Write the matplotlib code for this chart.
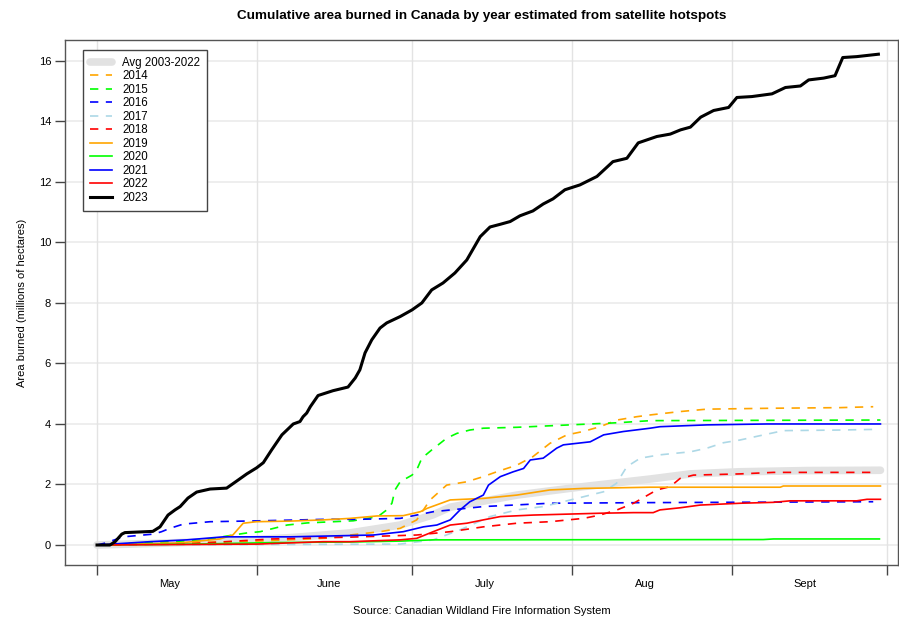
import matplotlib
matplotlib.use("Agg")
import matplotlib.pyplot as plt
import numpy as np

plt.rcParams['font.family'] = ['Liberation Sans', 'DejaVu Sans']

# day of year, cumulative area (millions of ha)
avg_day = [121, 133.4, 146.3, 159, 170, 179.7, 186.1, 189.4, 202.3, 215.2, 228.1, 235.9, 245.5, 258.5, 272.7]
avg_val = [0, 0.06, 0.13, 0.25, 0.4, 0.66, 1.0, 1.25, 1.65, 1.93, 2.18, 2.35, 2.42, 2.46, 2.47]

y2014_day = [121, 152, 166.1, 170.0, 175.8, 179.7, 182.9, 185.5, 188.7, 192.6, 195.8, 198.4, 202.3, 205.4,
             208.7, 212.0, 215.1, 218.4, 221.7, 225.5, 228.2, 233.9, 239.1, 251.9, 264.9, 271.3]
y2014_val = [0, 0.13, 0.23, 0.33, 0.44, 0.55, 0.83, 1.49, 1.98, 2.09, 2.26, 2.42, 2.64, 2.92,
             3.36, 3.64, 3.75, 3.91, 4.13, 4.24, 4.30, 4.41, 4.49, 4.52, 4.54, 4.57]

y2015_day = [121, 134.6, 141.5, 147.3, 150.1, 152.6, 157.8, 161.7, 170.6, 175.4, 177.1, 178.1, 178.7, 179.7,
             182.0, 182.9, 183.9, 185.8, 188.7, 190.7, 193.2, 195.8, 202.3, 207.4, 212.6, 221.7, 228.2, 272.7]
y2015_val = [0, 0.11, 0.16, 0.33, 0.40, 0.44, 0.66, 0.73, 0.80, 0.94, 1.16, 1.38, 1.82, 2.09,
             2.31, 2.48, 2.87, 3.14, 3.53, 3.69, 3.80, 3.86, 3.89, 3.93, 3.97, 4.04, 4.11, 4.13]

y2016_day = [121, 122.5, 126.1, 131.9, 133.5, 135.1, 137.7, 142.9, 152.6, 165.5, 171.9, 179.7, 186.1,
             195.8, 208.7, 226.8, 271.3]
y2016_val = [0, 0.06, 0.27, 0.36, 0.44, 0.55, 0.69, 0.77, 0.80, 0.85, 0.85, 0.88, 1.10,
             1.27, 1.38, 1.40, 1.43]

y2017_day = [121, 179.7, 186.1, 191.3, 197.1, 202.3, 207.4, 213.9, 219.1, 221.6, 223.6, 226.2, 230.0,
             235.9, 239.1, 242.3, 245.5, 250.1, 253.9, 265.0, 271.3]
y2017_val = [0, 0.03, 0.17, 0.50, 0.94, 1.16, 1.27, 1.54, 1.76, 2.04, 2.59, 2.87, 2.98,
             3.08, 3.20, 3.38, 3.47, 3.64, 3.78, 3.80, 3.82]

y2018_day = [121, 140, 155, 170, 182.9, 189.4, 195.8, 202.3, 208.7, 215.2, 218.4, 221.7, 224.9, 229.4,
             232.0, 233.9, 236.5, 245.5, 252.0, 271.3]
y2018_val = [0, 0.05, 0.2, 0.26, 0.33, 0.44, 0.60, 0.72, 0.77, 0.88, 0.99, 1.16, 1.38, 1.82,
             1.93, 2.20, 2.31, 2.35, 2.40, 2.40]

y2019_day = [121, 137.1, 144.8, 147.3, 149.3, 151.9, 158.4, 164.8, 170.0, 175.2, 180.3, 183.6, 184.9,
             189.4, 195.8, 202.3, 208.7, 215.2, 228.1, 253.3, 253.9, 272.7]
y2019_val = [0, 0.07, 0.2, 0.33, 0.72, 0.77, 0.79, 0.83, 0.88, 0.96, 0.97, 1.10, 1.21,
             1.49, 1.54, 1.65, 1.82, 1.87, 1.91, 1.91, 1.95, 1.95]

y2020_day = [121, 140, 155, 170, 180, 186, 250, 252, 272.5]
y2020_val = [0, 0.03, 0.08, 0.10, 0.13, 0.17, 0.18, 0.20, 0.20]

y2021_day = [121, 131.3, 138.4, 145.5, 158.4, 174.5, 180.3, 184.2, 186.8, 189.4, 191.3, 193.2, 195.8,
             196.8, 199.1, 201.6, 203.6, 204.9, 207.4, 210.0, 211.3, 216.5, 219.1, 222.9, 228.1, 230.0,
             239.1, 250.7, 272.7]
y2021_val = [0, 0.11, 0.17, 0.27, 0.27, 0.33, 0.44, 0.60, 0.66, 0.83, 1.16, 1.43, 1.65,
             1.98, 2.26, 2.42, 2.53, 2.81, 2.87, 3.20, 3.31, 3.41, 3.64, 3.75, 3.86, 3.91,
             3.97, 4.0, 4.0]

y2022_day = [121, 152, 164.8, 170.0, 179.7, 182.9, 186.1, 189.4, 192.6, 195.8, 199.1, 205.5, 212.0,
             218.4, 224.9, 228.7, 230.0, 233.9, 237.8, 245.5, 252.0, 255.2, 268.1, 270.1, 272.7]
y2022_val = [0, 0.03, 0.11, 0.11, 0.17, 0.22, 0.44, 0.66, 0.72, 0.83, 0.94, 0.99, 1.02,
             1.05, 1.07, 1.07, 1.16, 1.23, 1.32, 1.38, 1.41, 1.46, 1.46, 1.51, 1.51]

y2023_day = [121.0, 123.5, 124.5, 125.8, 126.4, 131.8, 133.2, 134.75, 136.1, 137.1, 138.6, 140.3, 142.9,
             146.1, 148.1, 150.0, 151.9, 153.2, 154.8, 156.8, 159.0, 160.3, 160.9, 161.6, 162.3, 163.8,
             166.7, 169.6, 171.0, 171.9, 172.9, 174.2, 175.8, 177.1, 179.7, 182.0, 183.9, 185.8, 188.0,
             190.3, 192.6, 195.2, 197.1, 199.1, 201.0, 202.9, 205.4, 207.4, 209.3, 211.6, 214.5, 217.8,
             220.9, 223.6, 225.8, 229.4, 232.0, 234.0, 235.9, 237.9, 240.4, 243.3, 244.9, 247.8, 251.7,
             254.3, 257.2, 258.8, 261.7, 263.9, 265.4, 268.1, 272.3]
y2023_val = [0, 0, 0.11, 0.36, 0.41, 0.45, 0.60, 0.99, 1.16, 1.27, 1.55, 1.75, 1.85,
             1.88, 2.12, 2.35, 2.55, 2.72, 3.14, 3.64, 4.0, 4.08, 4.24, 4.36, 4.57, 4.94,
             5.10, 5.22, 5.52, 5.79, 6.35, 6.78, 7.17, 7.34, 7.55, 7.77, 8.0, 8.43, 8.66,
             8.99, 9.42, 10.19, 10.51, 10.60, 10.69, 10.88, 11.04, 11.27, 11.44, 11.74, 11.90, 12.18,
             12.67, 12.78, 13.29, 13.50, 13.58, 13.72, 13.81, 14.14, 14.36, 14.46, 14.79, 14.82, 14.91,
             15.12, 15.17, 15.37, 15.43, 15.51, 16.11, 16.14, 16.22]

month_starts = [121, 152, 182, 213, 244, 274]
month_mids = [135, 166, 196, 227, 258]
month_names = ['May', 'June', 'July', 'Aug', 'Sept']

fig = plt.figure(figsize=(8.99, 6.18), dpi=100)
ax = fig.add_axes([0.0723, 0.0858, 0.9266, 0.8495])

for v in range(0, 17, 2):
    ax.axhline(v, color='#ebebeb', lw=1.2, zorder=0)
for d in month_starts:
    ax.axvline(d, color='#e3e3e3', lw=1.0, zorder=0)

dash = (5, 4.5)
ax.plot(avg_day, avg_val, color='#e2e2e2', lw=5.5, solid_capstyle='round', label='Avg 2003-2022', zorder=1)
ax.plot(y2014_day, y2014_val, color='orange', lw=1.2, dashes=dash, label='2014')
ax.plot(y2015_day, y2015_val, color='#00ff00', lw=1.2, dashes=dash, label='2015')
ax.plot(y2016_day, y2016_val, color='blue', lw=1.2, dashes=dash, label='2016')
ax.plot(y2017_day, y2017_val, color='lightblue', lw=1.2, dashes=dash, label='2017')
ax.plot(y2018_day, y2018_val, color='red', lw=1.2, dashes=dash, label='2018')
ax.plot(y2019_day, y2019_val, color='orange', lw=1.2, label='2019')
ax.plot(y2020_day, y2020_val, color='#00ff00', lw=1.2, label='2020')
ax.plot(y2021_day, y2021_val, color='blue', lw=1.2, label='2021')
ax.plot(y2022_day, y2022_val, color='red', lw=1.2, label='2022')
ax.plot(y2023_day, y2023_val, color='black', lw=2.2, label='2023')

ax.set_xlim(114.8, 276.1)
ax.set_ylim(-0.66, 16.69)

ax.set_yticks(range(0, 17, 2))
ax.set_xticks(month_starts)
ax.set_xticklabels([])
ax.set_xticks(month_mids, minor=True)
ax.set_xticklabels(month_names, minor=True)
ax.tick_params(axis='x', which='minor', length=0, pad=10, labelsize=8)
ax.tick_params(axis='x', which='major', length=7, width=1, color='#444444')
ax.tick_params(axis='y', length=7, width=1, color='#444444', labelsize=8, pad=3)
for s in ax.spines.values():
    s.set_color('#555555')
    s.set_linewidth(1.0)

ax.set_ylabel('Area burned (millions of hectares)', fontsize=8, labelpad=8)
ax.set_xlabel('Source: Canadian Wildland Fire Information System', fontsize=8, labelpad=12)
ax.set_title('Cumulative area burned in Canada by year estimated from satellite hotspots',
             fontsize=9.7, fontweight='bold', pad=15)

leg = ax.legend(loc='upper left', bbox_to_anchor=(0.0216, 0.981), borderaxespad=0, fontsize=8.3,
                fancybox=False, framealpha=1, edgecolor='#444444', handlelength=1.9,
                labelspacing=0.13, borderpad=0.6, handletextpad=0.9)
leg.get_frame().set_linewidth(1.0)

fig.savefig('out.png', dpi=100)
